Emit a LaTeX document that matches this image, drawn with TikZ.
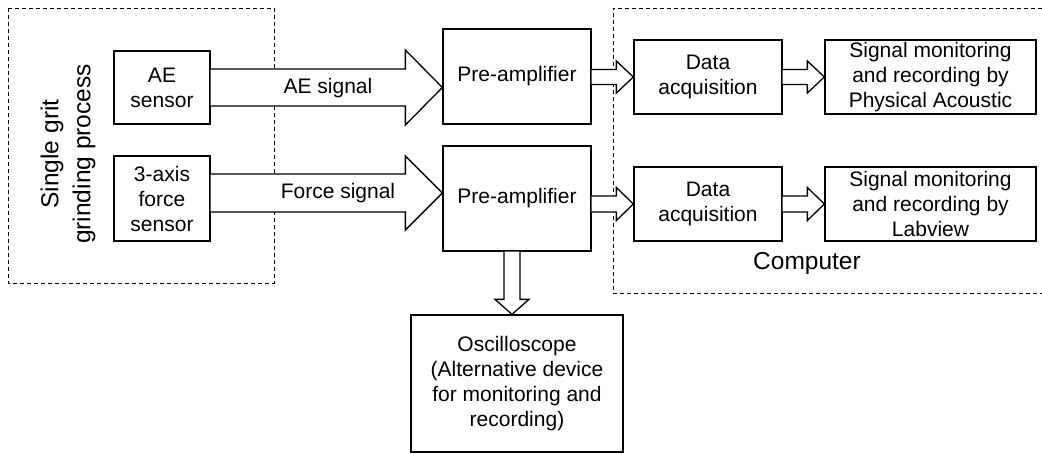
\documentclass[tikz,border=0pt]{standalone}
\usepackage{fontspec}
\setmainfont{Liberation Sans}
\usetikzlibrary{calc}
\tikzset{
  box/.style={draw, line width=1.3pt, align=center, inner sep=0pt, font=\fontsize{21}{25}\selectfont},
  dashbox/.style={draw, line width=0.9pt, dash pattern=on 4pt off 3pt},
  arrowline/.style={draw, line width=1.3pt, line join=miter, fill=white},
  lbl/.style={font=\fontsize{21}{25}\selectfont, inner sep=0pt, align=center},
  biglbl/.style={font=\fontsize{24.5}{32}\selectfont, inner sep=0pt, align=center}
}
% horizontal block arrow: #1 start, #2 tip target (x used), #3 half shaft, #4 half head, #5 head length
\newcommand\harrow[5]{%
  \path[arrowline] let \p1=(#1), \p2=(#2) in
    (\x1,\y1+#3) -- (\x2-#5,\y1+#3) -- (\x2-#5,\y1+#4) -- (\x2,\y1)
    -- (\x2-#5,\y1-#4) -- (\x2-#5,\y1-#3) -- (\x1,\y1-#3);}
% vertical (downward) block arrow: #1 start, #2 tip target (y used)
\newcommand\varrow[5]{%
  \path[arrowline] let \p1=(#1), \p2=(#2) in
    (\x1-#3,\y1) -- (\x1-#3,\y2+#5) -- (\x1-#4,\y2+#5) -- (\x1,\y2)
    -- (\x1+#4,\y2+#5) -- (\x1+#3,\y2+#5) -- (\x1+#3,\y1);}
\begin{document}
\begin{tikzpicture}[x=1pt,y=-1pt]
\useasboundingbox (0,0) rectangle (1042,453);
% dashed groups
\draw[dashbox] (8,8) rectangle (274,283);
\draw[dashbox] (1042,8) -- (613,8) -- (613,293) -- (1042,293);
\node[biglbl, rotate=90] (proc) at (68,154) {Single grit\\grinding process};
\node[biglbl] (comp) at (807,263) {Computer};
% sensors
\node[box, minimum width=96pt, minimum height=73pt] (ae) at (162,87.5) {AE\\sensor};
\node[box, minimum width=96pt, minimum height=85pt] (fs) at (162,198.5) {3-axis\\force\\sensor};
% pre-amplifiers
\node[box, minimum width=148pt, minimum height=95pt] (pa1) at (517,76.5) {Pre-amplifier};
\node[box, minimum width=148pt, minimum height=105pt] (pa2) at (517,198.5) {Pre-amplifier};
% data acquisition
\node[box, minimum width=148pt, minimum height=74pt] (da1) at (708,77) {Data\\acquisition};
\node[box, minimum width=148pt, minimum height=74pt] (da2) at (708,204) {Data\\acquisition};
% signal monitoring
\node[box, minimum width=211pt, minimum height=74pt] (sm1) at (930.5,77) {Signal monitoring\\and recording by\\Physical Acoustic};
\node[box, minimum width=211pt, minimum height=74pt] (sm2) at (930.5,204) {Signal monitoring\\and recording by\\Labview};
% oscilloscope
\node[box, minimum width=212pt, minimum height=137pt] (osc) at (517,383.5) {Oscilloscope\\(Alternative device\\for monitoring and\\recording)};
% connectors
\coordinate (aes) at (ae.east);
\coordinate (fss) at ($(fs.east)+(0,-5.5)$);
\harrow{aes}{pa1.west}{18.5pt}{37.5pt}{37pt}
\harrow{fss}{pa2.west}{19pt}{37pt}{37pt}
\node[lbl] (aelbl) at (328,88) {AE signal};
\node[lbl] (fslbl) at (338,193) {Force signal};
\harrow{pa1.east |- da1.west}{da1.west}{7.5pt}{16pt}{17pt}
\harrow{pa2.east |- da2.west}{da2.west}{8pt}{16.5pt}{17pt}
\harrow{da1.east}{sm1.west}{7.5pt}{16pt}{17pt}
\harrow{da2.east}{sm2.west}{8pt}{16.5pt}{17pt}
\coordinate (pab) at ($(pa2.south)+(-5,0)$);
\varrow{pab}{osc.north}{8pt}{17pt}{15pt}
\end{tikzpicture}
\end{document}
